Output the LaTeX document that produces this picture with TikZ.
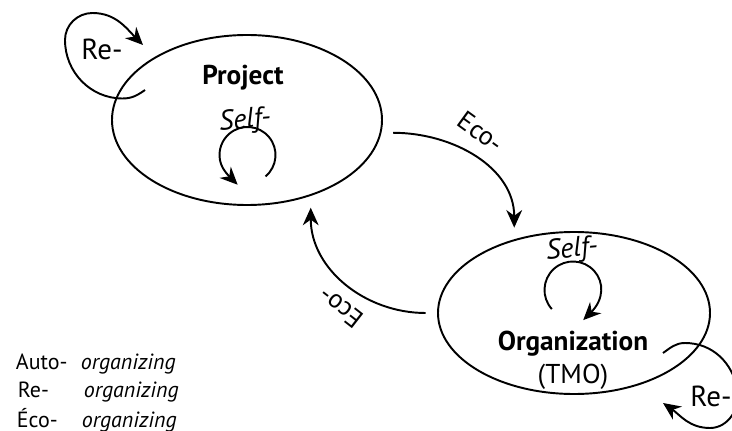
\documentclass[tikz,border=0pt]{standalone}
\usepackage{fontspec}
\setmainfont{PT Sans}
\usepackage{tikz}
\usetikzlibrary{arrows.meta,shapes.geometric}

\begin{document}
\begin{tikzpicture}[>={Stealth[length=10pt,width=9pt]}, line width=1.1pt,
		blob/.style={draw, ellipse, outer sep=7pt, inner sep=0pt},
		title/.style={font=\fontsize{15.5}{18}\selectfont\bfseries, anchor=base},
		self/.style={font=\fontsize{16}{18}\selectfont\itshape},
		pref/.style={font=\fontsize{15}{18}\selectfont},
		legend/.style={font=\fontsize{12.5}{15}\selectfont, anchor=base west, inner sep=0pt}]
		%\draw [help lines] (0,0) grid (14,8);
		\useasboundingbox (0,0) rectangle (14.64,8.6);

		\node [blob, minimum width=5.4cm, minimum height=3.4cm] (proj) at (4.94,6.2) {};
		\node [blob, minimum width=5.44cm, minimum height=3.24cm] (org) at (11.48,2.34) {};

		\node [title] (projname) at (4.86,6.9) {Project};
		\node [title] (orgname) at (11.46,1.6) {Organization};
		\node [title, font=\fontsize{15.5}{18}\selectfont] (orgtmo) at (11.46,0.94) {(TMO)};

		% self loops
		\coordinate (pself) at (4.95,5.5);
		\coordinate (oself) at (11.46,2.8);
		\draw [->, shorten >=-8pt] (pself) ++(-50:0.56) arc [start angle=-50, end angle=225, radius=0.56];
		\draw [->, shorten >=-8pt] (oself) ++(222:0.57) arc [start angle=222, end angle=-45, radius=0.57];
		\node [self, rotate=5] (pselflab) at (4.9,6.18) {Self-};
		\node [self, rotate=5] (oselflab) at (11.44,3.6) {Self-};

		% re loops
		\coordinate (reps) at (2.9,6.8);
		\coordinate (repe) at (2.86,7.7);
		\draw [->] (reps) to [out=215, in=0] (2.45,6.63) to [out=180, in=-90] (1.3,7.8)
			to [out=90, in=180] (1.85,8.34) to [out=0, in=135] (repe);
		\node [pref, font=\fontsize{16.5}{19}\selectfont] (replab) at (2.04,7.62) {Re-};
		\coordinate (reos) at (13.26,1.54);
		\coordinate (reoe) at (13.26,0.54);
		\draw [->] (reos) to [out=35, in=180] (13.7,1.74) to [out=0, in=100] (14.75,0.8)
			to [out=-80, in=0] (14.2,0.04) to [out=180, in=-35] (reoe);
		\node [pref, font=\fontsize{16.5}{19}\selectfont] (reolab) at (14.22,0.68) {Re-};

		% eco arrows
		\draw [->] (proj.-5) to [out=0, in=90] (org.125);
		\draw [->] (org.180) to [out=180, in=-90] (proj.-54);
		\node [pref, rotate=-36] (ecoa) at (9.62,5.96) {Eco-};
		\node [pref, rotate=142] (ecob) at (6.82,2.44) {Eco-};

		% legend
		\node [legend] (auto) at (0.3,1.22) {Auto-};
		\node [legend] (autoorg) at (1.6,1.22) {\itshape organizing};
		\node [legend] (re) at (0.34,0.66) {Re-};
		\node [legend] (reorg) at (1.66,0.66) {\itshape organizing};
		\node [legend] (eco) at (0.32,0.06) {Éco-};
		\node [legend] (ecoorg) at (1.62,0.06) {\itshape organizing};
	\end{tikzpicture}
\end{document}
